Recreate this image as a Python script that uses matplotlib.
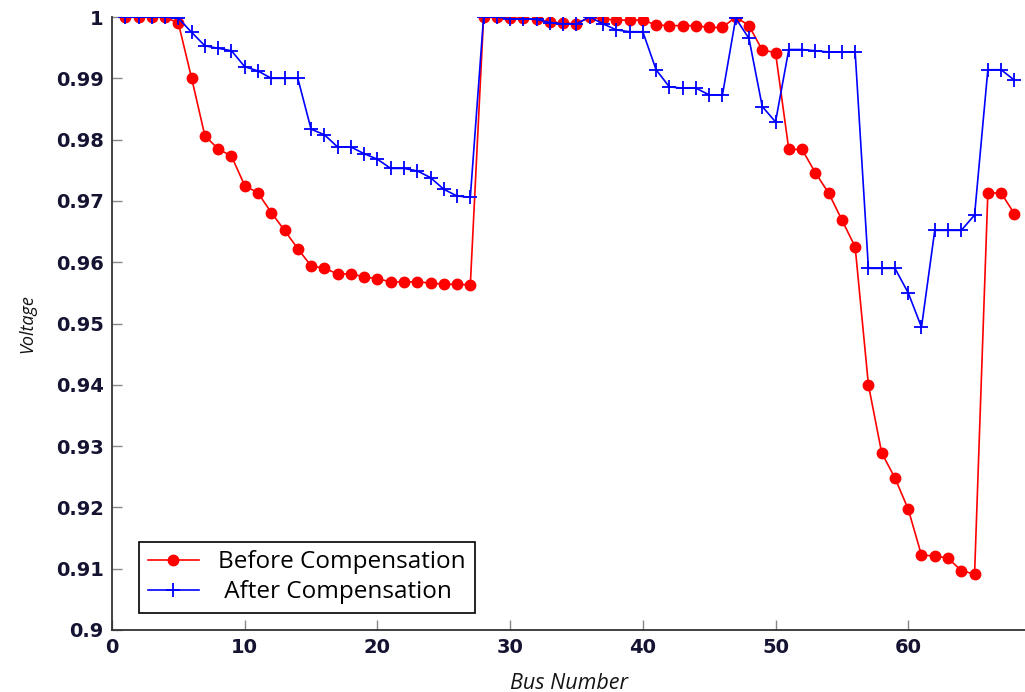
import matplotlib.pyplot as plt
import numpy as np
from matplotlib.ticker import FuncFormatter

bus = np.arange(1, 69)

before = [1.0, 1.0, 1.0, 1.0, 0.9990, 0.9900, 0.9806, 0.9785, 0.9773, 0.9725,
          0.9713, 0.9681, 0.9652, 0.9622, 0.9594, 0.9590, 0.9581, 0.9581, 0.9576, 0.9573,
          0.9568, 0.9568, 0.9568, 0.9566, 0.9564, 0.9564, 0.9563, 1.0, 1.0, 0.9998,
          0.9998, 0.9996, 0.9992, 0.9990, 0.9989, 1.0, 0.9997, 0.9995, 0.9995, 0.9995,
          0.9987, 0.9986, 0.9986, 0.9986, 0.9983, 0.9983, 1.0, 0.9986, 0.9946, 0.9942,
          0.9784, 0.9784, 0.9746, 0.9713, 0.9669, 0.9625, 0.9400, 0.9289, 0.9248, 0.9197,
          0.9122, 0.9121, 0.9117, 0.9097, 0.9091, 0.9713, 0.9713, 0.9679]

after = [1.0, 1.0, 1.0, 1.0, 0.9998, 0.9975, 0.9953, 0.9949, 0.9945, 0.9919,
         0.9912, 0.9900, 0.9900, 0.9900, 0.9817, 0.9808, 0.9788, 0.9788, 0.9777, 0.9768,
         0.9753, 0.9753, 0.9749, 0.9738, 0.9719, 0.9708, 0.9706, 1.0, 1.0, 0.9997,
         0.9997, 0.9996, 0.9991, 0.9989, 0.9989, 1.0, 0.9989, 0.9979, 0.9976, 0.9976,
         0.9914, 0.9886, 0.9884, 0.9884, 0.9873, 0.9873, 0.9998, 0.9965, 0.9854, 0.9829,
         0.9947, 0.9947, 0.9945, 0.9943, 0.9943, 0.9943, 0.9590, 0.9590, 0.9590, 0.9550,
         0.9494, 0.9652, 0.9652, 0.9652, 0.9677, 0.9914, 0.9914, 0.9897]

fig = plt.figure(figsize=(10.25, 6.92), dpi=100)
ax = fig.add_axes([0.1093, 0.0896, 0.8907, 0.8858])

ax.plot(bus, before, color='red', linewidth=1.2, marker='o', markersize=7.5,
        label='Before Compensation')
ax.plot(bus, after, color='blue', linewidth=1.2, marker='+', markersize=10,
        markeredgewidth=1.3, label=' After Compensation')

ax.set_xlim(0, 68.8)
ax.set_ylim(0.9, 1.0)
ax.set_xticks(np.arange(0, 61, 10))
ax.set_yticks(np.linspace(0.9, 1.0, 11))
ax.yaxis.set_major_formatter(FuncFormatter(lambda v, p: '%g' % round(v, 2)))

for s in ['top', 'right']:
    ax.spines[s].set_visible(False)
for s in ['left', 'bottom']:
    ax.spines[s].set_color('#333333')
    ax.spines[s].set_linewidth(1.3)

ax.tick_params(direction='in', length=7, color='#888888', width=1,
               labelsize=14, labelcolor='#141432', pad=6)
for lab in ax.get_xticklabels() + ax.get_yticklabels():
    lab.set_fontweight('bold')

ax.set_xlabel('Bus Number', family='Open Sans', style='italic', fontsize=15.5,
              color='#141414', labelpad=11)
ax.set_ylabel('Voltage', family='Open Sans', style='italic', fontsize=13,
              color='#141414', labelpad=14)

leg = ax.legend(loc='lower left', bbox_to_anchor=(0.03, 0.028), fancybox=False,
                edgecolor='black', framealpha=1, prop={'family': 'Open Sans', 'size': 17.5},
                borderpad=0.35, labelspacing=0.25, handlelength=2.1, borderaxespad=0)
leg.get_frame().set_linewidth(1.2)

plt.savefig('out.png')
